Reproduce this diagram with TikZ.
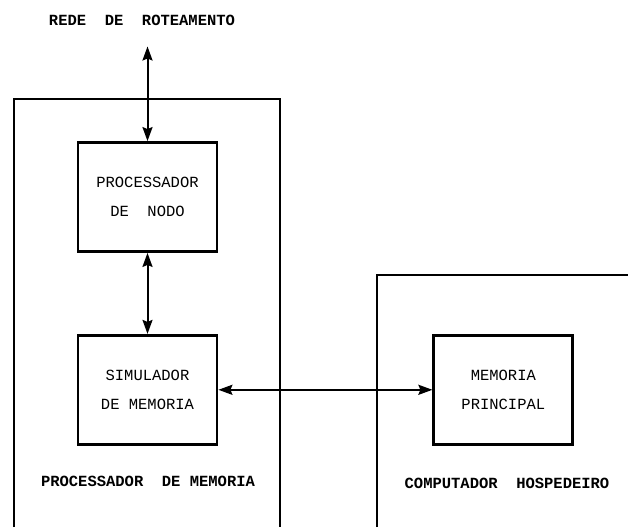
\documentclass[tikz,border=0pt]{standalone}
\usepackage{fontspec}
\setmonofont{Liberation Mono}
\usetikzlibrary{arrows.meta,positioning}

\begin{document}
\begin{tikzpicture}[
    x=1pt, y=-1pt,
    font=\ttfamily\fontsize{15.5}{29}\selectfont,
    unit/.style={draw, line width=2.8pt, minimum width=139pt, minimum height=109pt, align=center, inner sep=0pt},
    frame/.style={line width=1.2pt},
    caption/.style={inner sep=0pt, font=\ttfamily\bfseries\fontsize{15.5}{29}\selectfont},
    link/.style={arrows={Stealth[length=14pt,width=10pt,inset=2pt]-Stealth[length=14pt,width=10pt,inset=2pt]}, line width=2pt}
]
\useasboundingbox (0,0) rectangle (628,527);

% outer frames
\draw[frame] (14,527) |- (280,99) -- (280,527);
\draw[frame] (377,527) |- (628,275);

\node[caption] (title) at (142,20) {REDE\ \ DE\ \ ROTEAMENTO};
\coordinate[below=21pt of title] (rede);

\node[unit] (nodo) at (147.5,197) {PROCESSADOR\\DE\ \ NODO};
\node[unit, below=81pt of nodo] (simul) {SIMULADOR\\DE MEMORIA};
\node[unit, right=214pt of simul] (memoria) {MEMORIA\\PRINCIPAL};

\node[caption] (procmem) at (148,481) {PROCESSADOR\ \ DE MEMORIA};
\node[caption] (host) at (507,483) {COMPUTADOR\ \ HOSPEDEIRO};

\draw[link] (nodo.north) -- (nodo.north |- rede);
\draw[link] (nodo.south) -- (simul.north);
\draw[link] (simul.east) -- (memoria.west);
\end{tikzpicture}
\end{document}
